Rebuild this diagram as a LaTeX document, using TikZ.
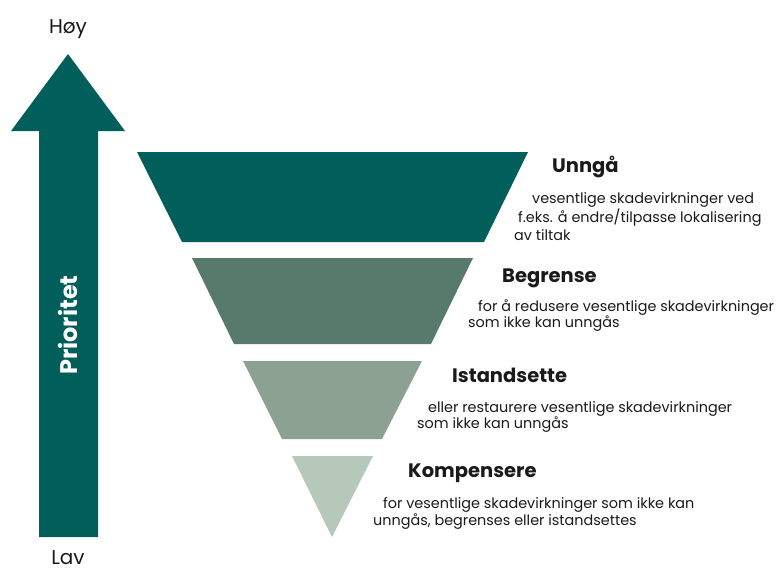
\documentclass[tikz,border=0pt]{standalone}
\usepackage{fontspec}
\setmainfont{Poppins}
\definecolor{c1}{HTML}{005E5B}
\definecolor{c2}{HTML}{587A6D}
\definecolor{c3}{HTML}{8CA192}
\definecolor{c4}{HTML}{B6C8B9}
\definecolor{ink}{HTML}{1A1A1A}
\begin{document}
\begin{tikzpicture}[x=1pt,y=-1pt,
  head/.style={font=\bfseries\fontsize{19.5}{22}\selectfont, anchor=base west, inner sep=0, text=ink},
  body/.style={font=\fontsize{14.4}{16}\selectfont, anchor=base west, inner sep=0, text=ink},
  axis/.style={font=\fontsize{20}{22}\selectfont, inner sep=0, anchor=base, text=ink}]
\useasboundingbox (0,0) rectangle (777,570);
% arrow
\fill[c1] (68,54) -- (125,131) -- (98,131) -- (98,537) -- (39,537) -- (39,131) -- (11,131) -- cycle;
\node[axis] (hoy) at (68,33) {Høy};
\node[axis] (lav) at (68,564) {Lav};
\node[font=\bfseries\fontsize{24}{26}\selectfont, text=white, rotate=90, inner sep=0] (prio) at (68,325) {Prioritet};
% funnel
\fill[c1] (137,152) -- (528,152) -- (484,242) -- (182,242) -- cycle;
\fill[c2] (192,258) -- (473,258) -- (431,344) -- (234,344) -- cycle;
\fill[c3] (243,361) -- (422,361) -- (382,439) -- (282,439) -- cycle;
\fill[c4] (292,456) -- (373,456) -- (332,537) -- cycle;
% texts
\node[head] (h1) at (552,172) {Unngå};
\node[body] (b1a) at (532,203) {vesentlige skadevirkninger ved};
\node[body] (b1b) at (518,222) {f.eks. å endre/tilpasse lokalisering};
\node[body] (b1c) at (514,240) {av tiltak};
\node[head] (h2) at (502,282) {Begrense};
\node[body] (b2a) at (478,311) {for å redusere vesentlige skadevirkninger};
\node[body] (b2b) at (468,327) {som ikke kan unngås};
\node[head] (h3) at (452,382) {Istandsette};
\node[body] (b3a) at (428,412) {eller restaurere vesentlige skadevirkninger};
\node[body] (b3b) at (417,428) {som ikke kan unngås};
\node[head] (h4) at (408,477) {Kompensere};
\node[body] (b4a) at (383,508) {for vesentlige skadevirkninger som ikke kan};
\node[body] (b4b) at (373,525) {unngås, begrenses eller istandsettes};
\end{tikzpicture}
\end{document}
